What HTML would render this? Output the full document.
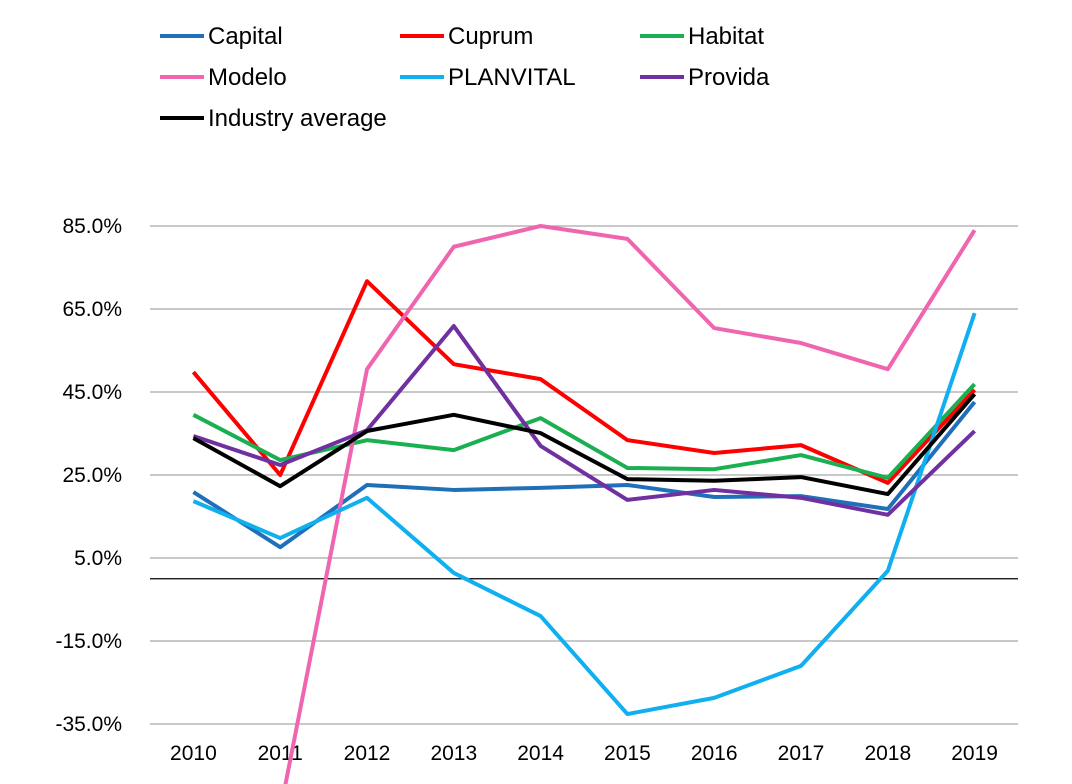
<!DOCTYPE html>
<html><head><meta charset="utf-8"><style>
body{margin:0;background:#fff;}
svg{display:block;font-family:"Liberation Sans",Arial,sans-serif;}
</style></head><body>
<svg id="chart" width="1072" height="784"></svg>
<script>
const years=["2010","2011","2012","2013","2014","2015","2016","2017","2018","2019"];
const capital=[20.9,7.6,22.6,21.4,21.9,22.6,19.7,19.9,16.8,42.6];
const cuprum=[49.8,25,71.7,51.7,48.1,33.4,30.3,32.2,23.1,45.5];
const habitat=[39.5,28.6,33.4,31,38.7,26.7,26.4,29.8,24.3,46.9];
const modelo=[null,-56,50.5,80,85,81.9,60.4,56.8,50.5,84];
const planvital=[18.7,9.8,19.5,1.4,-9,-32.6,-28.7,-21,1.9,64];
const provida=[34.4,27.4,35.8,60.9,32,19,21.4,19.5,15.4,35.6];
const industry=[33.9,22.3,35.6,39.5,35.1,24,23.6,24.5,20.4,44.5];
const yTicks=[85,65,45,25,5,-15,-35];
const yTickLabels=["85.0%","65.0%","45.0%","25.0%","5.0%","-15.0%","-35.0%"];
const seriesNames=["Capital","Cuprum","Habitat","Modelo","PLANVITAL","Provida","Industry average"];
const seriesData=[capital,cuprum,habitat,modelo,planvital,provida,industry];
const colors=["#1f6fba","#ff0000","#1aaf50","#f065b0","#10b0f0","#7030a0","#000000"];
const NS="http://www.w3.org/2000/svg";
const svg=document.getElementById('chart');
const x0=150,x1=1018;
function xs(i){return x0+(x1-x0)/years.length*(i+0.5);}
function ys(v){return 226+(85-v)*4.15;}
function mk(t,a,p){const e=document.createElementNS(NS,t);for(const k in a)e.setAttribute(k,a[k]);(p||svg).appendChild(e);return e;}
yTicks.forEach((v,i)=>{
 const g=mk('line',{x1:x0,x2:x1,y1:ys(v),y2:ys(v),stroke:'#a6a6a6','stroke-width':1.3});
 
 
 const t=mk('text',{x:122,y:ys(v)+7,'text-anchor':'end','font-size':21,fill:'#000'});
 t.textContent=yTickLabels[i];
 
 
});
const z=mk('line',{x1:x0,x2:x1,y1:ys(0),y2:ys(0),stroke:'#000','stroke-width':1.3});


years.forEach((y,i)=>{
 const t=mk('text',{x:xs(i),y:760,'text-anchor':'middle','font-size':21,fill:'#000'});
 t.textContent=y;
 
 
});
seriesData.forEach((d,s)=>{
 let pts=[];d.forEach((v,i)=>{if(v!==null)pts.push(xs(i)+','+ys(v));});
 const p=mk('polyline',{points:pts.join(' '),fill:'none',stroke:colors[s],'stroke-width':4,'stroke-linejoin':'round'});
 
 
});
seriesNames.forEach((n,s)=>{
 const lx=160+(s%3)*240, ly=36+Math.floor(s/3)*41;
 const g=mk('g',{});
 
 
 mk('line',{x1:lx,x2:lx+44,y1:ly,y2:ly,stroke:colors[s],'stroke-width':4},g);
 const t=mk('text',{x:lx+48,y:ly+8,'font-size':24,fill:'#000'},g);
 t.textContent=n;
});
</script>
</body></html>
